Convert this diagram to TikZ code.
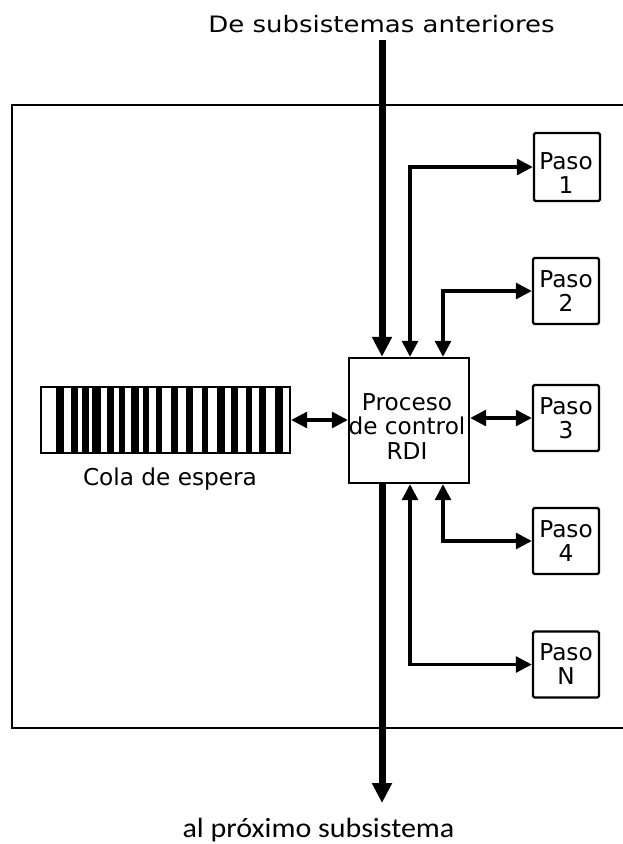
\documentclass[tikz,border=0pt]{standalone}
\usepackage{fontspec}
\newfontfamily\vf{DejaVu Sans}
\newfontfamily\vtopfont[FakeStretch=1.15]{DejaVu Sans}
\newfontfamily\cf[FakeStretch=1.08]{Carlito}
\usetikzlibrary{arrows.meta}
\begin{document}
\begin{tikzpicture}[x=1pt,y=-1pt,
  >={Triangle[length=16pt,width=16pt]},
  thinarr/.style={line width=3.2pt},
  thickarr/.style={line width=7pt,-{Triangle[length=20pt,width=19pt]}},
  pasofont/.style={align=center,font=\vf\fontsize{23.2}{24}\selectfont},
  pasobox/.style={draw,line width=2.4pt,rounded corners=1.5pt,minimum width=66pt,minimum height=66pt,inner sep=0pt,pasofont},
  ctrlbox/.style={draw,line width=2.4pt,minimum width=120pt,minimum height=125pt,inner sep=0pt},
  lbl/.style={inner sep=0pt,anchor=base}]
\useasboundingbox (0,0) rectangle (623,844);
% outer frame
\draw[line width=2.6pt] (623,105) -- (12,105) -- (12,728) -- (623,728);
% nodes
\node[ctrlbox] (ctrl) at (409,420.5) {};
\node[inner sep=0pt,align=center,font=\vf\fontsize{23.2}{24.5}\selectfont] (ctrltxt) at (407,426.5) {Proceso\\de control\\RDI};
\node[pasobox,minimum height=68pt] (p1) at (567,167) {};
\node[inner sep=0pt,pasofont] (p1txt) at (566,173.5) {Paso\\1};
\node[pasobox] (p2) at (566,291) {Paso\\2};
\node[pasobox] (p3) at (566,418) {Paso\\3};
\node[pasobox] (p4) at (566,541) {Paso\\4};
\node[pasobox] (pN) at (566,664.5) {Paso\\N};
% queue
\node[draw,line width=2.4pt,minimum width=249pt,minimum height=66pt,inner sep=0pt] (queue) at (165.5,420) {};
\foreach \a/\b in {57/63,72/77,83/88,93/100,108/113,120/124,132/138,144/148,157/161,172/177,187/192,203/207,218/224,232/237,247/251,260/265,276/282}
  \fill (\a-0.6,387) rectangle (\b+0.6,453);
\node[lbl,font=\vf\fontsize{23.2}{24}\selectfont] (qlbl) at (170,485) {Cola de espera};
% labels
\node[lbl,font=\vtopfont\fontsize{22.6}{28}\selectfont] (toplbl) at (381.5,32) {De subsistemas anteriores};
\node[lbl,font=\cf\fontsize{27.8}{32}\selectfont] (botlbl) at (318.5,837) {al próximo subsistema};
% main flow
\coordinate (top) at (382,40);
\coordinate (bot) at (382,803);
\draw[thickarr] (top) -- (top |- ctrl.north);
\draw[thickarr] (bot |- ctrl.south) -- (bot);
% step connectors
\coordinate (a1) at (410,167);
\coordinate (a2) at (443,291);
\coordinate (a4) at (443,541);
\coordinate (aN) at (410,664.5);
\draw[thinarr,<->] (p1.west) -- (a1) -- (a1 |- ctrl.north);
\draw[thinarr,<->] (p2.west) -- (a2) -- (a2 |- ctrl.north);
\draw[thinarr,<->] (ctrl.east |- p3.west) -- (p3.west);
\draw[thinarr,<->] (p4.west) -- (a4) -- (a4 |- ctrl.south);
\draw[thinarr,<->] (pN.west) -- (aN) -- (aN |- ctrl.south);
\draw[thinarr,<->] (queue.east) -- (ctrl.west |- queue.east);
\end{tikzpicture}
\end{document}
